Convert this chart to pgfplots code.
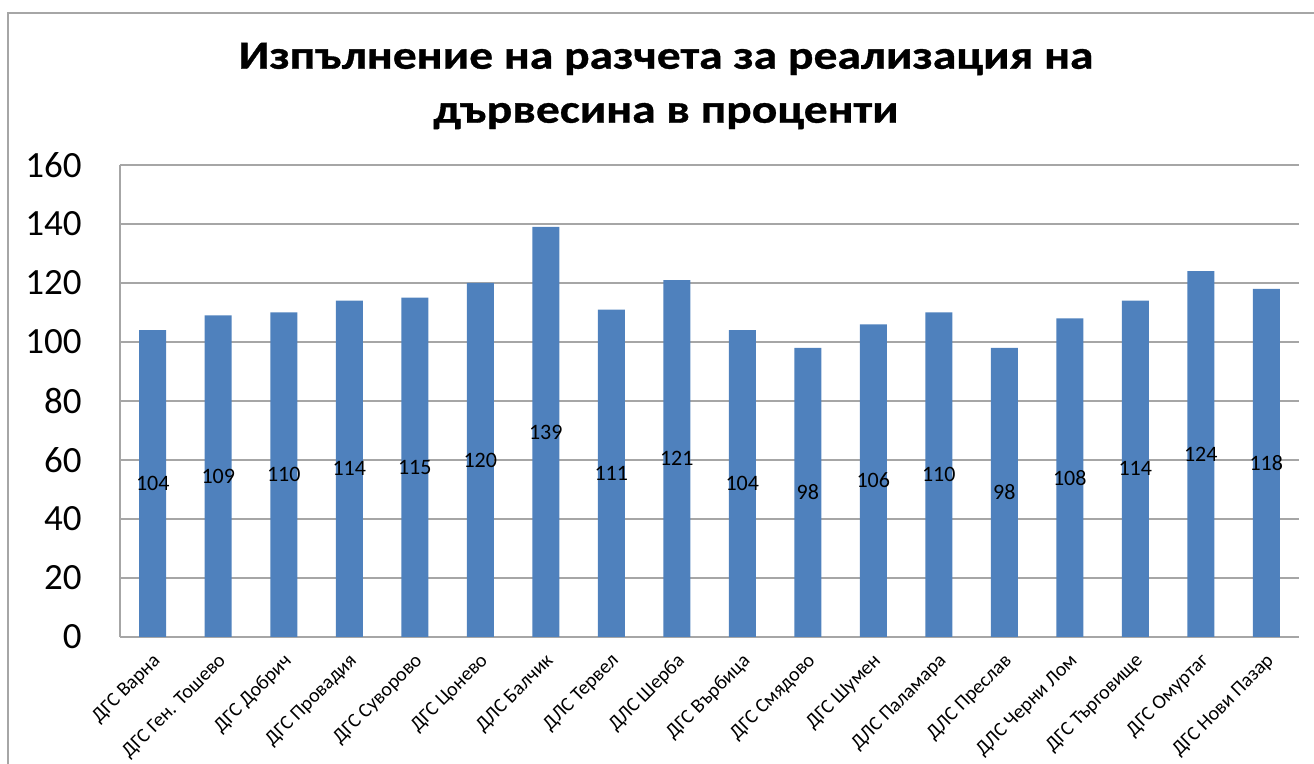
\documentclass[border=0pt]{standalone}
\usepackage{pgfplots}
\pgfplotsset{compat=1.18}
\usepackage{pgfplotstable}
\usepackage{fontspec}
\setmainfont{Carlito}
\newfontfamily\titlefont{Carlito}[FakeStretch=1.19, BoldFeatures={FakeBold=0.8}]
\definecolor{barblue}{HTML}{4F81BD}
\definecolor{gridgray}{HTML}{A6A6A6}
\pgfplotstableread{
x y
0 104
1 109
2 110
3 114
4 115
5 120
6 139
7 111
8 121
9 104
10 98
11 106
12 110
13 98
14 108
15 114
16 124
17 118
}\data
\begin{document}
\begin{tikzpicture}
\useasboundingbox (0,0) rectangle (657pt,382pt);
\draw[gridgray, line width=0.8pt] (4pt,-5pt) -- (4pt,375.5pt) -- (670pt,375.5pt);
\node[align=center, font=\titlefont\fontsize{20}{27}\selectfont\bfseries] at (333pt,339pt)
  {Изпълнение на разчета за реализация на\\дървесина в проценти};
\begin{axis}[
  at={(60pt,63.5pt)}, anchor=south west,
  width=589.5pt, height=236pt, scale only axis,
  xmin=-0.5, xmax=17.5, ymin=0, ymax=160,
  ytick={0,20,...,160},
  xtick={0,...,17},
  xticklabels={ДГС Варна, ДГС Ген. Тошево, ДГС Добрич, ДГС Провадия, ДГС Суворово, ДГС Цонево, ДЛС Балчик, ДЛС Тервел, ДЛС Шерба, ДГС Върбица, ДГС Смядово, ДГС Шумен, ДЛС Паламара, ДЛС Преслав, ДЛС Черни Лом, ДГС Търговище, ДГС Омуртаг, ДГС Нови Пазар},
  xticklabel style={xshift=-0.5pt, yshift=-7.5pt, rotate=45, anchor=north east, font=\fontsize{10}{11}\selectfont, inner sep=0pt},
  yticklabel style={font=\fontsize{18.5}{20}\selectfont, anchor=east, inner sep=0pt, xshift=-19pt},
  /pgf/number format/assume math mode=true,
  axis x line*=bottom, axis y line*=left,
  axis line style={gridgray, line width=0.8pt},
  major tick length=0pt,
  ymajorgrids, grid style={gridgray, line width=0.8pt},
  clip=false,
]
\addplot[ybar, fill=barblue, draw=none, bar width=13.5pt] table[x=x, y=y]{\data};
\addplot[draw=none, nodes near coords, point meta=explicit,
  nodes near coords style={anchor=center, font=\fontsize{11}{12}\selectfont, text=black}]
  table[x=x, y expr=\thisrow{y}/2, meta=y]{\data};
\end{axis}
\end{tikzpicture}
\end{document}
